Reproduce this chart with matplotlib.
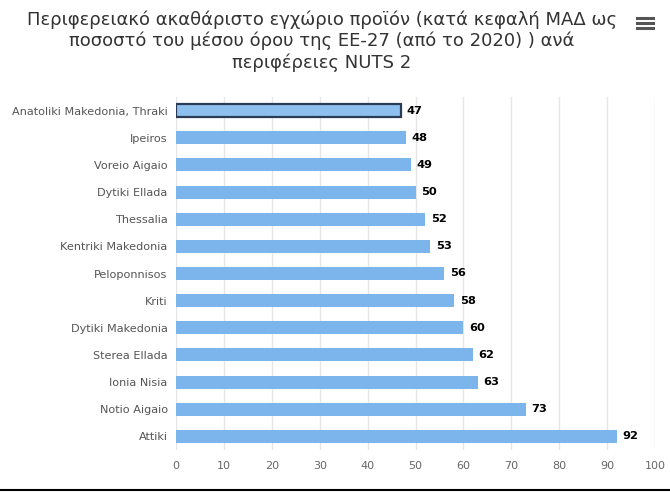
import matplotlib
matplotlib.use("Agg")
import matplotlib.pyplot as plt
from matplotlib.lines import Line2D

regions = ["Anatoliki Makedonia, Thraki", "Ipeiros", "Voreio Aigaio", "Dytiki Ellada",
           "Thessalia", "Kentriki Makedonia", "Peloponnisos", "Kriti", "Dytiki Makedonia",
           "Sterea Ellada", "Ionia Nisia", "Notio Aigaio", "Attiki"]
values = [47, 48, 49, 50, 52, 53, 56, 58, 60, 62, 63, 73, 92]
xticks = [0, 10, 20, 30, 40, 50, 60, 70, 80, 90, 100]

title = ("Περιφερειακό ακαθάριστο εγχώριο προϊόν (κατά κεφαλή ΜΑΔ ως\n"
         "ποσοστό του μέσου όρου της ΕΕ-27 (από το 2020) ) ανά\n"
         "περιφέρειες NUTS 2")

fig = plt.figure(figsize=(6.7, 4.92), dpi=100)
ax = fig.add_axes([176/670, 1-450/492, (655-176)/670, (450-97)/492])

ypos = list(range(len(regions)))
bars = ax.barh(ypos, values, height=0.48, color="#7cb5ec", zorder=3)
# highlighted first bar
bars[0].set_facecolor("#8ec0ef")
bars[0].set_edgecolor("#2b3a55")
bars[0].set_linewidth(1.6)

for y, v in zip(ypos, values):
    ax.text(v + 1.2, y, str(v), va="center", ha="left", fontsize=8.2,
            fontweight="bold", color="#000000", zorder=4)

ax.set_xlim(0, 100)
ax.set_ylim(len(regions) - 0.5, -0.5)
ax.set_xticks(xticks)
ax.set_xticklabels([str(t) for t in xticks], color="#666666", fontsize=8)
ax.set_yticks(ypos)
ax.set_yticklabels(regions, color="#555555", fontsize=8.1)
ax.tick_params(axis="y", length=0, pad=6)
ax.tick_params(axis="x", length=0, pad=8)
ax.grid(axis="x", color="#e6e6e6", linewidth=1, zorder=0)
for s in ax.spines.values():
    s.set_visible(False)

fig.text(322/670, 1-41/492, title, ha="center", va="center", fontsize=13,
         color="#333333", linespacing=1.2)

# menu icon
for dy in (-5, 0, 5):
    fig.add_artist(Line2D([637/670, 653/670], [1-(23+dy)/492]*2, color="#555555", lw=2.2))

# bottom border
fig.add_artist(Line2D([0, 1], [1-490/492]*2, color="#000000", lw=1.5))

fig.savefig("out.png", dpi=100)
